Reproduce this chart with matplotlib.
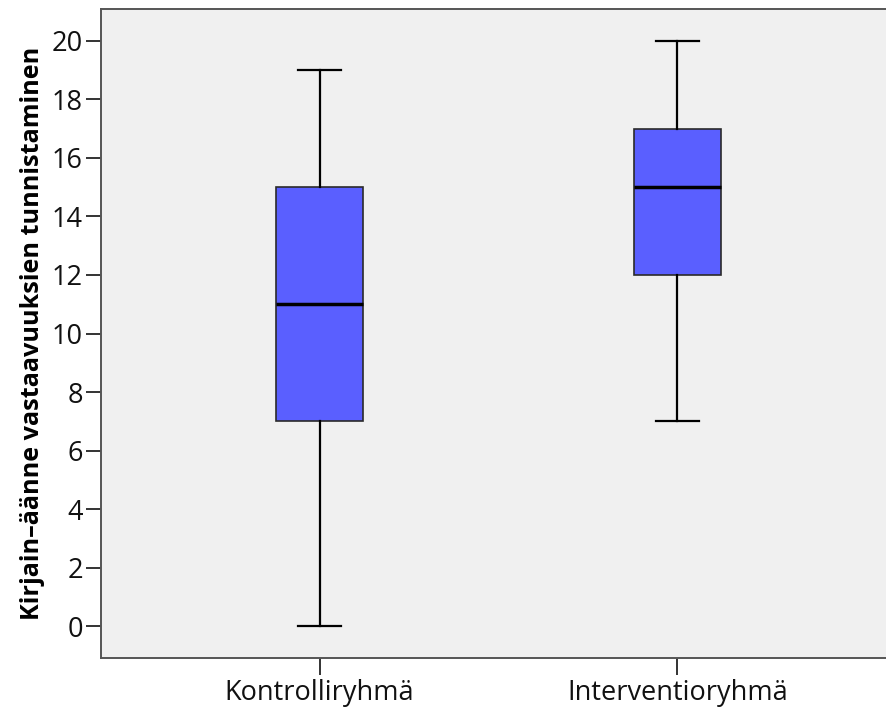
import matplotlib
matplotlib.use("Agg")
import matplotlib.pyplot as plt

categories = ["Kontrolliryhmä", "Interventioryhmä"]
whislo = [0, 7]
q1 = [7, 12]
med = [11, 15]
q3 = [15, 17]
whishi = [19, 20]
yticks = [0, 2, 4, 6, 8, 10, 12, 14, 16, 18, 20]
ylabel = "Kirjain–äänne vastaavuuksien tunnistaminen"

plt.rcParams['font.family'] = ['Open Sans', 'DejaVu Sans']

fig = plt.figure(figsize=(8.87, 7.17), dpi=100)
ax = fig.add_axes([101/887, 1 - 658/717, (887 - 101)/887 + 0.002, (658 - 9)/717])
ax.set_facecolor('#F0F0F0')

stats = []
for i, c in enumerate(categories):
    stats.append(dict(label=c, whislo=whislo[i], q1=q1[i], med=med[i], q3=q3[i],
                      whishi=whishi[i], fliers=[]))

ax.bxp(stats, positions=[1, 2], widths=0.245, patch_artist=True, showfliers=False,
       boxprops=dict(facecolor='#5A5FFF', edgecolor='#2a2a2a', linewidth=1.2),
       medianprops=dict(color='black', linewidth=2.5),
       whiskerprops=dict(color='black', linewidth=1.6),
       capprops=dict(color='black', linewidth=1.6),
       capwidths=0.12)

ax.set_xlim(0.389, 2.591)
ax.set_ylim(-1.09, 21.09)
ax.set_yticks(yticks)
ax.set_yticklabels([str(t) for t in yticks])
ax.tick_params(axis='both', labelsize=19.5, width=1.4, color='#333333', labelcolor='#111111')
ax.tick_params(axis='x', length=12, pad=3)
ax.tick_params(axis='y', length=11, pad=2)
for s in ['left', 'bottom', 'top']:
    ax.spines[s].set_color('#555555')
    ax.spines[s].set_linewidth(1.4)
ax.spines['right'].set_visible(False)
ax.set_ylabel(ylabel, fontsize=18.2, fontweight='bold', labelpad=5)

fig.savefig("out.png", dpi=100)
